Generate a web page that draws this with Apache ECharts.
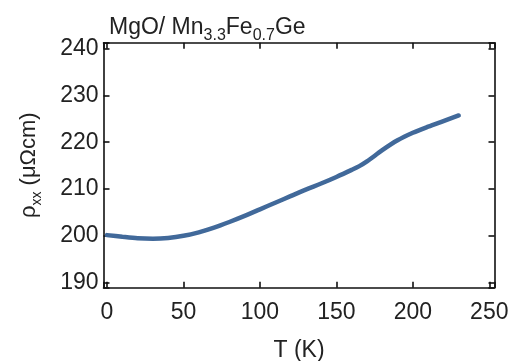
<!DOCTYPE html>
<html><head><meta charset="utf-8">
<script src="https://cdn.jsdelivr.net/npm/echarts@6/dist/echarts.min.js"></script>
<style>html,body{margin:0;padding:0;background:#fff}#c{width:511px;height:361px}</style>
</head><body><div id="c"></div>
<script>
const temps = [0, 10, 20, 30, 40, 50, 60, 70, 80, 90, 100, 110, 120, 130, 140, 150, 160, 165, 170, 180, 190, 200, 210, 220, 230];
const rho   = [200.2, 199.85, 199.55, 199.45, 199.6, 200.05, 200.8, 201.8, 203.0, 204.3, 205.7, 207.1, 208.5, 209.9, 211.2, 212.6, 214.1, 214.9, 215.9, 218.3, 220.4, 222.0, 223.3, 224.5, 225.7];
const xTicks = [0, 50, 100, 150, 200, 250];
const yTicks = [190, 200, 210, 220, 230, 240];

const FONT = 'Liberation Sans';
const chart = echarts.init(document.getElementById('c'));
const axisLine = {show: true, onZero: false, lineStyle: {color: '#111', width: 1.6}};
const tick = {show: true, inside: true, length: 6, lineStyle: {color: '#111', width: 1.6}};
chart.setOption({
  animation: false,
  title: {
    text: '{n|MgO/ Mn}{s|3.3}{n|Fe}{s|0.7}{n|Ge}',
    left: 104, top: 10,
    textStyle: {
      fontWeight: 'normal',
      rich: {
        n: {fontFamily: FONT, fontSize: 23, fontWeight: 'normal', color: '#222', lineHeight: 24, verticalAlign: 'bottom'},
        s: {fontFamily: FONT, fontSize: 16, fontWeight: 'normal', color: '#222', lineHeight: 24, verticalAlign: 'bottom', padding: [0, 0, -5, 0]}
      }
    }
  },
  grid: {left: 103.5, top: 42.7, right: 16.5, bottom: 73.3, containLabel: false, outerBoundsMode: 'none'},
  xAxis: [{
    type: 'value', min: -2.3, max: 253.4, position: 'bottom',
    axisLine: axisLine, splitLine: {show: false},
    axisTick: tick,
    axisLabel: {customValues: xTicks, fontFamily: FONT, fontSize: 23, color: '#222', margin: 13},
    name: 'T (K)', nameLocation: 'middle', nameGap: 51,
    nameTextStyle: {fontFamily: FONT, fontSize: 23, color: '#222'}
  }, {
    type: 'value', min: -2.3, max: 253.4, position: 'top',
    axisLine: axisLine, splitLine: {show: false},
    axisTick: tick,
    axisLabel: {show: false}
  }],
  yAxis: [{
    type: 'value', min: 189, max: 241.2, position: 'left',
    axisLine: axisLine, splitLine: {show: false},
    axisTick: tick,
    axisLabel: {customValues: yTicks, fontFamily: FONT, fontSize: 23, color: '#222', margin: 5},
    name: '{n|ρ}{s|xx}{n| (μΩcm)}', nameLocation: 'middle', nameGap: 64, nameRotate: 90,
    nameTextStyle: {
      rich: {
        n: {fontFamily: FONT, fontSize: 22, color: '#222', lineHeight: 26, verticalAlign: 'bottom'},
        s: {fontFamily: FONT, fontSize: 14, color: '#222', lineHeight: 26, verticalAlign: 'bottom', padding: [0, 0, -5, 0]}
      }
    }
  }, {
    type: 'value', min: 189, max: 241.2, position: 'right',
    axisLine: axisLine, splitLine: {show: false},
    axisTick: tick,
    axisLabel: {show: false}
  }],
  series: [{
    type: 'line', xAxisIndex: 0, yAxisIndex: 0,
    data: temps.map((t, i) => [t, rho[i]]),
    smooth: 0.3, showSymbol: false,
    lineStyle: {color: '#41699a', width: 4.5, cap: 'round'}
  }]
});
</script></body></html>
